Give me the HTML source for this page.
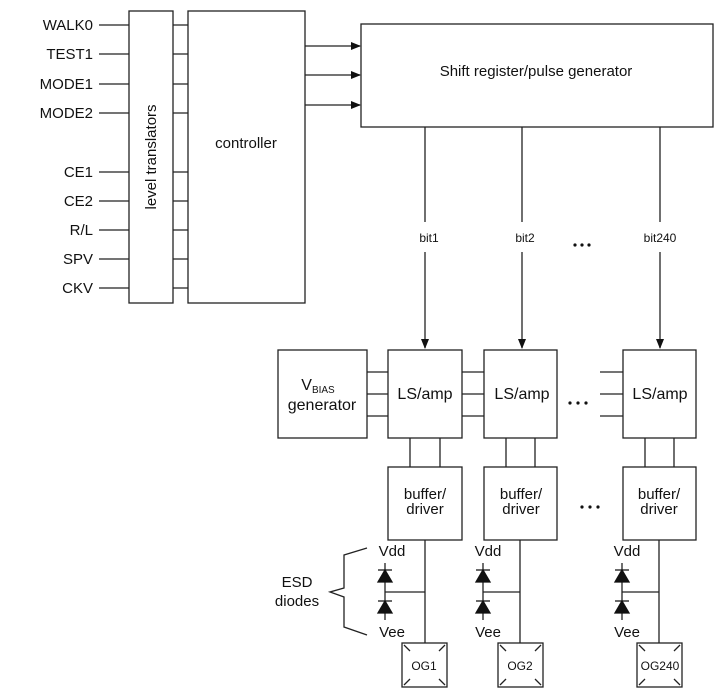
<!DOCTYPE html>
<html><head><meta charset="utf-8"><style>
html,body{margin:0;padding:0;background:#fff;}
svg{display:block;font-family:"Liberation Sans",Arial,sans-serif;}
</style></head><body>
<svg width="720" height="697" viewBox="0 0 720 697" xmlns="http://www.w3.org/2000/svg">
<defs><marker id="ah" markerWidth="10" markerHeight="8" refX="9" refY="4" orient="auto" markerUnits="userSpaceOnUse"><path d="M0,0 L10,4 L0,8 z" fill="#111"/></marker></defs>
<g stroke="#222" stroke-width="1.3" fill="none">
<rect x="129" y="11" width="44" height="292"/>
<rect x="188" y="11" width="117" height="292"/>
<rect x="361" y="24" width="352" height="103"/>
<path d="M99,25H129 M99,54H129 M99,84H129 M99,113H129 M99,172H129 M99,201H129 M99,230H129 M99,259H129 M99,288H129"/>
<path d="M173,25H188 M173,54H188 M173,84H188 M173,113H188 M173,172H188 M173,201H188 M173,230H188 M173,259H188 M173,288H188"/>
<path d="M305,46H360" marker-end="url(#ah)"/>
<path d="M305,75H360" marker-end="url(#ah)"/>
<path d="M305,105H360" marker-end="url(#ah)"/>
<path d="M425,127V222 M522,127V222 M660,127V222"/>
<path d="M425,252V348" marker-end="url(#ah)"/>
<path d="M522,252V348" marker-end="url(#ah)"/>
<path d="M660,252V348" marker-end="url(#ah)"/>
<rect x="278" y="350" width="89" height="88"/>
<rect x="388" y="350" width="74" height="88"/>
<rect x="484" y="350" width="73" height="88"/>
<rect x="623" y="350" width="73" height="88"/>
<path d="M367,372H388 M367,394H388 M367,416H388 M462,372H484 M462,394H484 M462,416H484 M600,372H623 M600,394H623 M600,416H623"/>
<path d="M410,438V467 M440,438V467 M506,438V467 M535,438V467 M645,438V467 M674,438V467"/>
<rect x="388" y="467" width="74" height="73"/>
<rect x="484" y="467" width="73" height="73"/>
<rect x="623" y="467" width="73" height="73"/>
<path d="M425,540V643 M520,540V643 M659,540V643"/>
<path d="M385,563V620 M385,592H425 M483,563V620 M483,592H520 M622,563V620 M622,592H659"/>
<path d="M367,548 L344,555 L344,588 L330,592 L344,597 L344,627 L367,635"/>
<rect x="402" y="643" width="45" height="44"/>
<rect x="498" y="643" width="45" height="44"/>
<rect x="637" y="643" width="45" height="44"/>
<path d="M404,645l6,6 M445,645l-6,6 M404,685l6,-6 M445,685l-6,-6 M500,645l6,6 M541,645l-6,6 M500,685l6,-6 M541,685l-6,-6 M639,645l6,6 M680,645l-6,6 M639,685l6,-6 M680,685l-6,-6"/>
</g>
<g fill="#111" stroke="#111" stroke-width="1.3">
<path d="M378,570H392 M378,601H392 M476,570H490 M476,601H490 M615,570H629 M615,601H629"/>
<path d="M385,570L378,582H392Z M385,601L378,613H392Z M483,570L476,582H490Z M483,601L476,613H490Z M622,570L615,582H629Z M622,601L615,613H629Z"/>
</g>
<g fill="#111">
<circle cx="575" cy="245" r="1.6"/><circle cx="582" cy="245" r="1.6"/><circle cx="589" cy="245" r="1.6"/>
<circle cx="570" cy="403" r="1.6"/><circle cx="578" cy="403" r="1.6"/><circle cx="586" cy="403" r="1.6"/>
<circle cx="582" cy="507" r="1.6"/><circle cx="590" cy="507" r="1.6"/><circle cx="598" cy="507" r="1.6"/>
</g>
<g font-size="15" fill="#111" text-anchor="end">
<text x="93" y="30">WALK0</text><text x="93" y="59">TEST1</text><text x="93" y="89">MODE1</text><text x="93" y="118">MODE2</text>
<text x="93" y="177">CE1</text><text x="93" y="206">CE2</text><text x="93" y="235">R/L</text><text x="93" y="264">SPV</text><text x="93" y="293">CKV</text>
</g>
<g fill="#111" text-anchor="middle">
<text transform="translate(156,157) rotate(-90)" font-size="15">level translators</text>
<text x="246" y="148" font-size="15">controller</text>
<text x="536" y="76" font-size="15">Shift register/pulse generator</text>
<text x="429" y="242" font-size="12">bit1</text><text x="525" y="242" font-size="12">bit2</text><text x="660" y="242" font-size="12">bit240</text>
<text x="318" y="390" font-size="16">V<tspan font-size="10" dy="3">BIAS</tspan></text>
<text x="322" y="410" font-size="16">generator</text>
<text x="425" y="399" font-size="16">LS/amp</text><text x="522" y="399" font-size="16">LS/amp</text><text x="660" y="399" font-size="16">LS/amp</text>
<text x="425" y="499" font-size="15">buffer/</text><text x="425" y="514" font-size="15">driver</text>
<text x="521" y="499" font-size="15">buffer/</text><text x="521" y="514" font-size="15">driver</text>
<text x="659" y="499" font-size="15">buffer/</text><text x="659" y="514" font-size="15">driver</text>
<text x="297" y="587" font-size="15">ESD</text><text x="297" y="606" font-size="15">diodes</text>
<text x="392" y="556" font-size="15">Vdd</text><text x="488" y="556" font-size="15">Vdd</text><text x="627" y="556" font-size="15">Vdd</text>
<text x="392" y="637" font-size="15">Vee</text><text x="488" y="637" font-size="15">Vee</text><text x="627" y="637" font-size="15">Vee</text>
<text x="424" y="670" font-size="12">OG1</text><text x="520" y="670" font-size="12">OG2</text><text x="660" y="670" font-size="12">OG240</text>
</g>
</svg>
</body></html>
